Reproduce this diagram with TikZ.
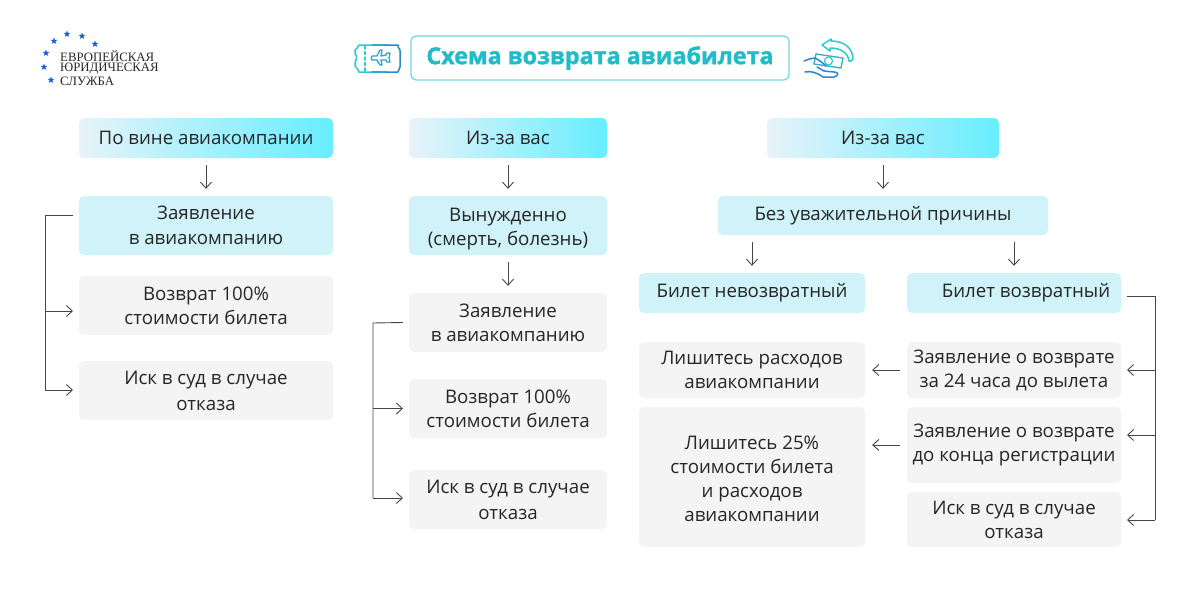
\documentclass[tikz,border=0pt]{standalone}
\usepackage{fontspec}
\setmainfont{Open Sans}[BoldFeatures={FakeBold=1.3}]
\newfontfamily\logofont{Liberation Serif}
\usepackage{xcolor}
\definecolor{linkcolor}{RGB}{70, 70, 70}
\definecolor{gradleft}{RGB}{232, 243, 249}
\definecolor{gradright}{RGB}{102, 238, 255}
\definecolor{stepblue}{RGB}{207, 243, 249}
\definecolor{stepgrey}{RGB}{244, 244, 244}
\definecolor{titlecolor}{RGB}{32, 189, 200}
\definecolor{titleedge}{RGB}{112, 214, 224}
\definecolor{iconteal}{RGB}{42, 205, 200}
\definecolor{iconblue}{RGB}{46, 134, 206}
\definecolor{starblue}{RGB}{20, 90, 235}
\usepackage{tikz}
\usetikzlibrary{arrows.meta, calc, shapes.geometric}
\tikzset{
  box/.style={rounded corners=5pt,inner sep=0pt,align=center,text=black!85,
    font=\fontsize{18.7}{24}\selectfont},
  headbox/.style={box,left color=gradleft,right color=gradright,minimum height=40pt,text depth=0pt},
  bluebox/.style={box,fill=stepblue},
  greybox/.style={box,fill=stepgrey},
  linkto/.style={color=linkcolor,line width=0.9pt,-{Straight Barb[length=6pt,width=11pt]},shorten >=7pt,shorten <=7pt},
  bus/.style={draw=linkcolor,line width=0.9pt},
  busto/.style={bus,-{Straight Barb[length=6pt,width=11pt]}},
  logostar/.style={star,star points=5,star point ratio=2.4,fill=starblue,inner sep=0pt,minimum size=7pt},
  logotext/.style={anchor=west,inner sep=0pt,text=black!85,font=\logofont\fontsize{12.8}{13}\selectfont},
  icon/.style={line width=1.5pt,line join=round,line cap=round},
}
\begin{document}
\begin{tikzpicture}[x=1pt,y=-1pt]
  \useasboundingbox[fill=white] (0,0) rectangle (1200,600);

  % logo
  \foreach \n/\sx/\sy in {a/67/34,b/82/36,c/95/44,d/54/41,e/46/53,f/44/67,g/51/80}
    \node[logostar] (star\n) at (\sx,\sy) {};
  \node[logotext] (logo1) at (60,56) {ЕВРОПЕЙСКАЯ};
  \node[logotext] (logo2) at (60,69) {ЮРИДИЧЕСКАЯ};
  \node[logotext] (logo3) at (60,81) {СЛУЖБА};

  % title
  \node[draw=titleedge,line width=1.2pt,rounded corners=5pt,minimum width=378pt,minimum height=44pt,
    inner sep=0pt,text=titlecolor,font=\fontsize{23.3}{26}\selectfont\bfseries] (title) at (600,58) {Схема возврата авиабилета};

  % ticket icon
  \draw[icon,iconteal] (372,45) -- (359,45) .. controls (358,48) and (356,49) .. (355,50) -- (355,54)
    .. controls (357,55) and (357,60) .. (355,62) -- (355,66) .. controls (357,67) and (358,70) .. (359,72) -- (372,72);
  \draw[icon,iconteal!50!iconblue] (372,45) -- (386,45) (372,72) -- (386,72);
  \draw[icon,iconblue] (386,45) -- (398,45) .. controls (397,48) and (401,49) .. (400,51) .. controls (399,53) and (401,54) .. (400,56)
    .. controls (399,58) and (401,60) .. (400,62) .. controls (399,64) and (401,65) .. (400,67) .. controls (399,69) and (399,70) .. (398,72) -- (386,72);
  \draw[icon,iconteal,dashed,dash pattern=on 3pt off 2.5pt] (365,46) -- (365,71);
  \draw[icon,iconteal!40!iconblue,line width=1.3pt] (372,56) -- (377,56) -- (380,50) -- (382,50) -- (381,56) -- (386,55) -- (387,53) -- (390,53)
    -- (389,58) -- (390,62) -- (387,62) -- (386,60) -- (381,60) -- (382,65) -- (380,65) -- (377,60) -- (372,60) .. controls (371,59) and (371,57) .. (372,56);

  % refund icon
  \draw[icon,iconteal] (851,61) -- (853,59) .. controls (853,49) and (845,41) .. (831,41) -- (831,39) -- (822,45) -- (830,51) -- (830,48)
    .. controls (841,48) and (848,53) .. (849,61) -- (851,61);
  \draw[icon,iconteal!60!iconblue,line width=1.3pt] (816,54) -- (843,58) -- (841,68) -- (814,64);
  \draw[icon,iconteal!60!iconblue,line width=1.3pt] (816,54) -- (814,64);
  \draw[icon,iconteal,line width=1.2pt] (828.5,61) circle (4pt);
  \draw[icon,iconblue] (804,61) .. controls (809,59) and (812,58) .. (815,58) .. controls (819,60) and (823,63) .. (826,66);
  \draw[icon,iconblue] (805,72) .. controls (811,71) and (816,72) .. (823,77) -- (834,77) .. controls (839,76) and (839,72) .. (834,72) -- (824,71) -- (817,67);

  % left column
  \node[headbox,minimum width=254pt] (hdr1) at (206,138) {По вине авиакомпании};
  \node[bluebox,minimum width=254pt,minimum height=59pt] (claim1) at (206,225.5) {Заявление\\[1pt]в авиакомпанию};
  \node[greybox,minimum width=254pt,minimum height=59pt] (refund1) at (206,305.5) {Возврат 100\%\\стоимости билета};
  \node[greybox,minimum width=254pt,minimum height=59pt] (court1) at (206,390.5) {Иск в суд в случае\\[2pt]отказа};
  \coordinate (bus1a) at (45,215);
  \coordinate (bus1b) at (45,390);

  % middle column
  \node[headbox,minimum width=198pt] (hdr2) at (508,138) {Из-за вас};
  \node[bluebox,minimum width=198pt,minimum height=59pt] (forced) at (508,225.5) {\rule{0pt}{20pt}Вынужденно\\(смерть, болезнь)};
  \node[greybox,minimum width=198pt,minimum height=59pt] (claim2) at (508,322.5) {Заявление\\в авиакомпанию};
  \node[greybox,minimum width=198pt,minimum height=59pt] (refund2) at (508,408.5) {Возврат 100\%\\стоимости билета};
  \node[greybox,minimum width=198pt,minimum height=59pt] (court2) at (508,499.5) {Иск в суд в случае\\[2pt]отказа};
  \coordinate (bus2a) at (373,323);
  \coordinate (bus2b) at (373,498);

  % right column
  \node[headbox,minimum width=232pt] (hdr3) at (883,138) {Из-за вас};
  \node[bluebox,minimum width=330pt,minimum height=39pt] (noreason) at (883,215.5) {Без уважительной причины};
  \node[bluebox,minimum width=226pt,minimum height=40pt] (nonref) at (752,293) {Билет невозвратный};
  \node[bluebox,minimum width=214pt,minimum height=40pt] (ref) at (1014,293) {\hspace*{24pt}Билет возвратный};
  \node[greybox,minimum width=226pt,minimum height=56pt] (lose1) at (752,370) {Лишитесь расходов\\авиакомпании};
  \node[greybox,minimum width=226pt,minimum height=140pt] (lose2) at (752,477) {\rule{0pt}{18pt}Лишитесь 25\%\\стоимости билета\\и расходов\\авиакомпании};
  \node[greybox,minimum width=214pt,minimum height=56pt] (late1) at (1014,370) {Заявление о возврате\\за 24 часа до вылета};
  \node[greybox,minimum width=214pt,minimum height=76pt] (late2) at (1014,445) {Заявление о возврате\\до конца регистрации};
  \node[greybox,minimum width=214pt,minimum height=55pt] (court3) at (1014,519.5) {Иск в суд в случае\\отказа};
  \coordinate (bus3a) at (1155,296);
  \coordinate (bus3b) at (1155,520);

  \path[linkto]
    (hdr1) edge (claim1)
    (hdr2) edge (forced)
    (forced) edge (claim2)
    (hdr3) edge (noreason)
    (noreason.south -| nonref) edge (nonref)
    (noreason.south -| ref) edge (ref)
    (late1) edge (lose1)
    (late2.west) edge (late2.west -| lose2.east);

  \draw[bus] ($(claim1.west)+(-6,-10.5)$) -- (bus1a) -- (bus1b);
  \draw[busto] (bus1a |- refund1.west) ++(0,5.5) -- ++(28,0);
  \draw[busto] (bus1b) -- ++(28,0);

  \draw[bus] ($(claim2.west)+(-6,0)$) -- (bus2a) -- (bus2b);
  \draw[busto] (bus2a |- refund2.west) -- ++(30,0);
  \draw[busto] (bus2b) -- ++(30,0);

  \draw[bus] ($(ref.east)+(6,3)$) -- (bus3a) -- (bus3b);
  \draw[busto] (bus3a |- late1.east) -- ++(-28,0);
  \draw[busto] (bus3a |- late2.east) ++(0,-10) -- ++(-28,0);
  \draw[busto] (bus3b) -- ++(-28,0);
\end{tikzpicture}
\end{document}
